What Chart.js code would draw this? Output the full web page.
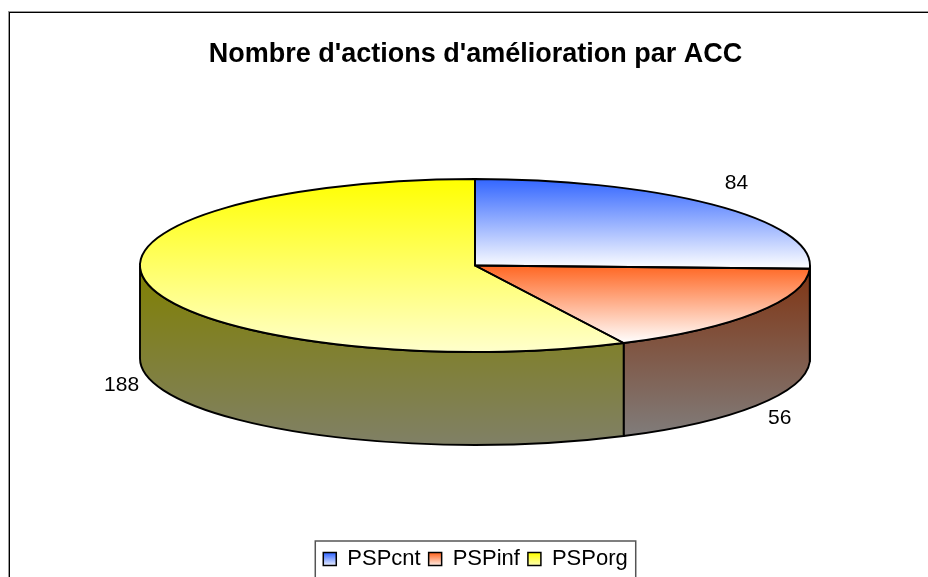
<!DOCTYPE html>
<html>
<head>
    <meta charset="utf-8">
    <title>Nombre d'actions d'amélioration par ACC</title>
    <style>
        body { margin: 0; background: white; }
        .wrap { width: 928px; height: 577px; }
    </style>
</head>
<body>
    <div class="wrap"><canvas id="pieChart" width="928" height="577"></canvas></div>

    <script src="https://cdn.jsdelivr.net/npm/chart.js"></script>
    <script>
        const titleText = "Nombre d'actions d'amélioration par ACC";
        const categories = ['PSPcnt', 'PSPinf', 'PSPorg'];
        const values = [84, 56, 188];
        const startColors = ['#3366ff', '#ff6622', '#ffff00'];
        const endColors = ['#ffffff', '#ffffff', '#ffffcc'];
        const wallStartColors = ['#1a3380', '#803311', '#808000'];
        const wallEndColors = ['#808080', '#808080', '#808066'];

        // the flattened disc on the page
        const disc = { cx: 475, cy: 265.5, rx: 335, ry: 86.5, depth: 93 };

        function vGradient(ctx, y0, y1, c0, c1) {
            const g = ctx.createLinearGradient(0, y0, 0, y1);
            g.addColorStop(0, c0);
            g.addColorStop(1, c1);
            return g;
        }

        // angle range of a slice, same as the pie controller works it out
        function sliceAngles(i) {
            const total = values.reduce((a, b) => a + b, 0);
            const before = values.slice(0, i).reduce((a, b) => a + b, 0);
            return [
                -Math.PI / 2 + before / total * 2 * Math.PI,
                -Math.PI / 2 + (before + values[i]) / total * 2 * Math.PI
            ];
        }

        // top and bottom of a slice on the page
        function sliceBounds(i) {
            const [a0, a1] = sliceAngles(i);
            let ys = [0, Math.sin(a0), Math.sin(a1)];
            if (a0 <= -Math.PI / 2 && a1 >= -Math.PI / 2) ys.push(-1);
            if (a0 <= Math.PI / 2 && a1 >= Math.PI / 2) ys.push(1);
            return [
                disc.cy + Math.min(...ys) * disc.ry,
                disc.cy + Math.max(...ys) * disc.ry
            ];
        }

        // page y -> y inside the squashed pie
        function toPieY(chart, y) {
            const area = chart.chartArea;
            const r = Math.min(area.width, area.height) / 2;
            return (area.top + area.bottom) / 2 + (y - disc.cy) * r / disc.ry;
        }

        const discPlugin = {
            id: 'disc',
            beforeDraw(chart) {
                const ctx = chart.ctx;
                ctx.save();
                ctx.lineWidth = 1;
                ctx.strokeStyle = '#999';
                ctx.strokeRect(8.5, 11.5, 1000, 1000);
                ctx.strokeStyle = '#000';
                ctx.strokeRect(9.5, 12.5, 1000, 1000);
                const boxes = chart.legend.legendHitBoxes;
                const last = boxes[boxes.length - 1];
                ctx.strokeStyle = '#555';
                ctx.lineWidth = 1.5;
                ctx.strokeRect(boxes[0].left - 8, 541, last.left + last.width - boxes[0].left + 16, 100);
                ctx.restore();
            },
            beforeDatasetsDraw(chart) {
                const ctx = chart.ctx;
                const arcs = chart.getDatasetMeta(0).data;
                ctx.save();
                ctx.lineWidth = 1.9;
                ctx.strokeStyle = '#000';
                arcs.forEach((arc, i) => {
                    const a0 = Math.max(arc.startAngle, 0);
                    const a1 = Math.min(arc.endAngle, Math.PI);
                    if (a1 <= a0) return;
                    ctx.beginPath();
                    ctx.ellipse(disc.cx, disc.cy, disc.rx, disc.ry, 0, a0, a1);
                    ctx.ellipse(disc.cx, disc.cy + disc.depth, disc.rx, disc.ry, 0, a1, a0, true);
                    ctx.closePath();
                    ctx.fillStyle = vGradient(ctx, disc.cy, disc.cy + disc.ry + disc.depth, wallStartColors[i], wallEndColors[i]);
                    ctx.fill();
                    ctx.stroke();
                });
                ctx.restore();

                // squash the library's round pie onto the disc
                const p = arcs[0];
                const sx = disc.rx / p.outerRadius;
                const sy = disc.ry / p.outerRadius;
                ctx.save();
                ctx.translate(disc.cx, disc.cy);
                ctx.scale(sx, sy);
                ctx.translate(-p.x, -p.y);
            },
            afterDatasetsDraw(chart) {
                const ctx = chart.ctx;
                ctx.restore();
                const arcs = chart.getDatasetMeta(0).data;
                ctx.save();
                ctx.lineWidth = 1.9;
                ctx.strokeStyle = '#000';
                ctx.lineJoin = 'round';
                arcs.forEach(arc => {
                    ctx.beginPath();
                    ctx.moveTo(disc.cx, disc.cy);
                    ctx.ellipse(disc.cx, disc.cy, disc.rx, disc.ry, 0, arc.startAngle, arc.endAngle);
                    ctx.closePath();
                    ctx.stroke();
                });

                // value labels
                ctx.fillStyle = '#000';
                ctx.font = '21px "Liberation Sans"';
                ctx.textAlign = 'center';
                ctx.textBaseline = 'middle';
                arcs.forEach((arc, i) => {
                    const mid = (arc.startAngle + arc.endAngle) / 2;
                    const s = Math.sin(mid);
                    const x = disc.cx + (disc.rx + 28) * Math.cos(mid);
                    const y = s > 0
                        ? disc.cy + disc.depth + 3 + (disc.ry + 17) * s
                        : disc.cy + (disc.ry + 32) * s;
                    ctx.fillText(values[i], x, y);
                });
                ctx.restore();
            }
        };

        new Chart(document.getElementById('pieChart'), {
            type: 'pie',
            data: {
                labels: categories,
                datasets: [{
                    data: values,
                    borderWidth: 0,
                    backgroundColor(c) {
                        const chart = c.chart;
                        if (!chart.chartArea || c.dataIndex === undefined) return startColors[0];
                        const [y0, y1] = sliceBounds(c.dataIndex);
                        return vGradient(chart.ctx, toPieY(chart, y0), toPieY(chart, y1),
                            startColors[c.dataIndex], endColors[c.dataIndex]);
                    }
                }]
            },
            options: {
                responsive: false,
                animation: false,
                layout: { padding: { left: 23, top: 0, right: 0, bottom: -3 } },
                plugins: {
                    tooltip: { enabled: false },
                    title: {
                        display: true,
                        text: titleText,
                        color: '#000',
                        font: { family: '"Liberation Sans"', size: 27, weight: 'bold' },
                        padding: { top: 38, bottom: 20 }
                    },
                    legend: {
                        position: 'bottom',
                        labels: {
                            color: '#000',
                            font: { family: '"Liberation Sans"', size: 22 },
                            boxWidth: 13,
                            boxHeight: 13,
                            padding: 8,
                            generateLabels(chart) {
                                return categories.map((name, i) => ({
                                    text: name,
                                    fillStyle: vGradient(chart.ctx, 553, 567, startColors[i], endColors[i]),
                                    strokeStyle: '#000',
                                    lineWidth: 1.5,
                                    index: i
                                }));
                            }
                        }
                    }
                }
            },
            plugins: [discPlugin]
        });
    </script>
</body>
</html>
